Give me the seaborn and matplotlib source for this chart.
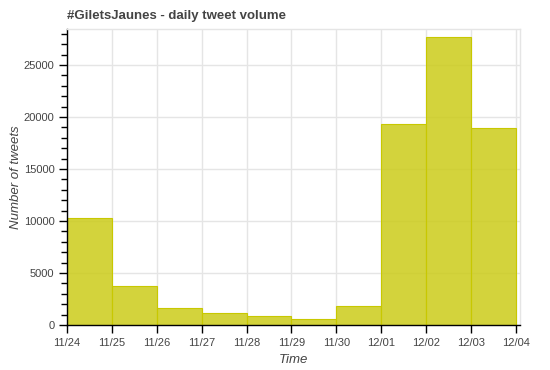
import matplotlib
matplotlib.use("Agg")
import matplotlib.pyplot as plt
import seaborn as sns
import numpy as np
import pandas as pd
from matplotlib.ticker import MultipleLocator, FixedLocator, NullLocator

# Data
day_labels = ["11/24", "11/25", "11/26", "11/27", "11/28", "11/29", "11/30",
              "12/01", "12/02", "12/03", "12/04"]
day_index = [0, 1, 2, 3, 4, 5, 6, 7, 8, 9]
tweet_counts = [10300, 3750, 1660, 1180, 840, 550, 1830, 19330, 27720, 18940]

df = pd.DataFrame({"day": [d + 0.5 for d in day_index], "tweets": tweet_counts})

sns.set_theme(style="white")
plt.rcParams['font.family'] = ['Liberation Sans', 'DejaVu Sans']

fig = plt.figure(figsize=(5.5, 3.7), dpi=100)
ax = fig.add_axes([67/550, 45/370, (520-67)/550, (325-29)/370])

sns.histplot(data=df, x="day", weights="tweets", binwidth=1, binrange=(0, 10),
             color="#cccc1a", alpha=0.85, edgecolor="#c8c800", linewidth=0.8,
             ax=ax, zorder=2)

ax.set_xlim(0, 10.09)
ax.set_ylim(0, 28460)

ax.xaxis.set_major_locator(FixedLocator(range(len(day_labels))))
ax.xaxis.set_minor_locator(NullLocator())
ax.set_xticklabels(day_labels)
ax.yaxis.set_major_locator(MultipleLocator(5000))
ax.yaxis.set_minor_locator(MultipleLocator(1000))

ax.grid(True, which="major", color="#e5e5e5", linewidth=1, zorder=0)
ax.set_axisbelow(True)

for s in ["top", "right"]:
    ax.spines[s].set_color("#e5e5e5")
    ax.spines[s].set_linewidth(1)
for s in ["left", "bottom"]:
    ax.spines[s].set_color("black")
    ax.spines[s].set_linewidth(1)

ax.tick_params(axis="both", which="major", direction="out", length=6, width=1,
               color="black", labelsize=8, labelcolor="#444444", pad=3)
ax.tick_params(axis="y", which="minor", direction="out", length=4, width=1, color="black")
ax.tick_params(left=True, bottom=True)
ax.tick_params(axis="y", which="minor", left=True)

ax.set_xlabel("Time", fontsize=9.5, style="italic", color="#444444", labelpad=5)
ax.set_ylabel("Number of tweets", fontsize=9.5, style="italic", color="#444444", labelpad=1)
ax.set_title("#GiletsJaunes - daily tweet volume", loc="left", fontsize=9.5,
             fontweight="bold", color="#444444", pad=7)

fig.savefig("out.png", dpi=100)
